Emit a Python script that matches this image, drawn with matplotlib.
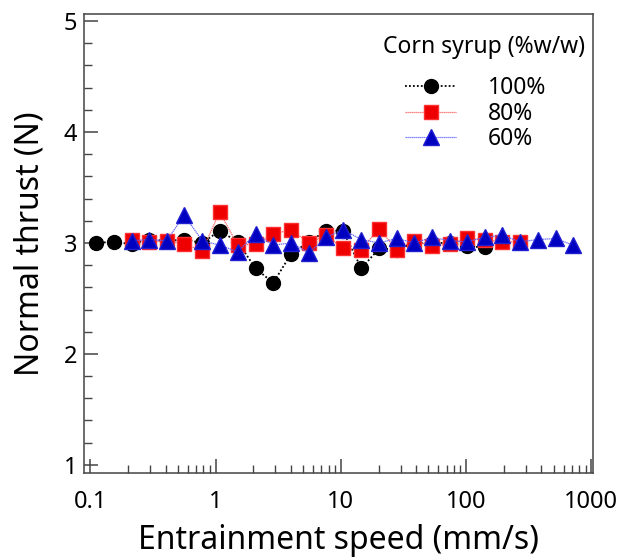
import numpy as np
import matplotlib.pyplot as plt
from matplotlib.ticker import FixedLocator, NullFormatter, MultipleLocator

plt.rcParams['font.family'] = ['Noto Sans', 'DejaVu Sans']

# entrainment speed (mm/s), shared sweep
speed = [0.111, 0.155, 0.214, 0.296, 0.407, 0.563, 0.783, 1.08, 1.50, 2.09,
         2.89, 4.00, 5.56, 7.67, 10.4, 14.6, 20.2, 27.9, 38.6, 53.6,
         74.2, 101, 141, 195, 269, 372, 518, 716]

# normal thrust (N) per corn syrup concentration
thrust_100 = [3.00, 3.01, 2.99, 3.03, 3.02, 3.03, 3.00, 3.11, 3.01, 2.77,
              2.64, 2.90, 3.01, 3.11, 3.11, 2.77, 2.95, 2.94, 3.00, 3.00,
              3.00, 2.97, 2.96]
thrust_80 = [3.03, 3.01, 3.02, 2.99, 2.93, 3.28, 2.98, 2.99, 3.08, 3.12,
             3.00, 3.07, 2.95, 2.94, 3.13, 2.94, 3.02, 2.97, 2.99, 3.04,
             3.03, 3.01, 3.01]
thrust_60 = [3.02, 3.03, 3.02, 3.25, 3.02, 2.98, 2.92, 3.08, 2.98, 3.00,
             2.91, 3.05, 3.12, 3.03, 3.00, 3.04, 3.00, 3.05, 3.02, 3.01,
             3.05, 3.07, 3.01, 3.03, 3.04, 2.98]

labels = ['100%', '80%', '60%']
x_ticks = [0.1, 1, 10, 100, 1000]

fig = plt.figure(figsize=(6.17, 5.6), dpi=100)
ax = fig.add_axes([0.136, 0.155, 0.825, 0.820])

ax.plot(speed[:len(thrust_100)], thrust_100, color='black', ls=(0, (1, 1.2)), lw=1.3,
        marker='o', ms=10, mfc='black', mec='black', label=labels[0], zorder=3)
ax.plot(speed[2:2 + len(thrust_80)], thrust_80, color='#ff6060', ls=(0, (1, 0.6)), lw=0.9,
        marker='s', ms=10, mfc='#ee0000', mec='#ff3030', label=labels[1], zorder=4)
ax.plot(speed[2:2 + len(thrust_60)], thrust_60, color='#6060ff', ls=(0, (1, 0.6)), lw=0.9,
        marker='^', ms=11, mfc='#0000c0', mec='#2020d0', label=labels[2], zorder=5)

ax.set_xscale('log')
ax.set_xlim(0.089, 1030)
ax.set_ylim(0.925, 5.063)

ax.xaxis.set_major_locator(FixedLocator(x_ticks))
ax.set_xticklabels(['0.1', '1', '10', '100', '1000'])
minors = [m * 10.0 ** e for e in range(-1, 3) for m in range(2, 10)]
ax.xaxis.set_minor_locator(FixedLocator(minors))
ax.xaxis.set_minor_formatter(NullFormatter())
ax.yaxis.set_major_locator(MultipleLocator(1))
ax.yaxis.set_minor_locator(MultipleLocator(0.2))

for s in ax.spines.values():
    s.set_color('#444444')
    s.set_linewidth(1.1)
ax.tick_params(which='both', direction='in', top=False, right=False, color='#444444',
               labelsize=17)
ax.tick_params(axis='x', which='major', pad=12)
ax.tick_params(axis='y', which='major', pad=5)
ax.tick_params(which='major', length=10, width=1.1)
ax.tick_params(which='minor', length=6, width=1.0)

ax.set_xlabel('Entrainment speed (mm/s)', fontsize=23, labelpad=7)
ax.set_ylabel('Normal thrust (N)', fontsize=23, labelpad=12)

ax.text(0.587, 0.928, 'Corn syrup (%w/w)', transform=ax.transAxes, fontsize=16.5,
        ha='left', va='center')
ax.legend(loc='upper left', bbox_to_anchor=(0.60, 0.899), frameon=False, fontsize=16.5,
          handlelength=2.2, handletextpad=1.4, labelspacing=0.05, borderpad=0.2)

fig.savefig('out.png', dpi=100)
